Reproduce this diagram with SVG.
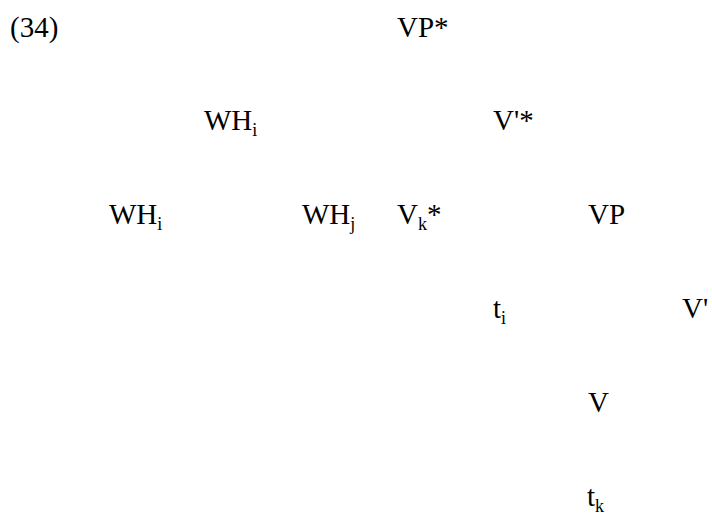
<svg xmlns="http://www.w3.org/2000/svg" width="712" height="521" viewBox="0 0 712 521">
<style>
text{font-family:"Liberation Serif","Times New Roman",serif;font-size:29px;fill:#000}
.s{font-size:18px}
</style>
<rect width="712" height="521" fill="#fff"/>
<g id="label"><text x="10" y="37">(34)</text></g>
<g id="vpstar"><text x="397" y="37">VP*</text></g>
<g id="whi1"><text x="204" y="130">WH<tspan class="s" dy="6">i</tspan></text></g>
<g id="vbarstar"><text x="493" y="130">V'*</text></g>
<g id="whi2"><text x="109" y="224">WH<tspan class="s" dy="6">i</tspan></text></g>
<g id="whj"><text x="302" y="224">WH<tspan class="s" dy="6">j</tspan></text></g>
<g id="vkstar"><text x="397" y="224">V<tspan class="s" dy="6">k</tspan><tspan dy="-6">*</tspan></text></g>
<g id="vp"><text x="588" y="224">VP</text></g>
<g id="ti"><text x="493" y="318">t<tspan class="s" dy="6">i</tspan></text></g>
<g id="vbar"><text x="682" y="318">V'</text></g>
<g id="v"><text x="588" y="412">V</text></g>
<g id="tk"><text x="587" y="506">t<tspan class="s" dy="6">k</tspan></text></g>
<g id="connectors"></g>
</svg>
